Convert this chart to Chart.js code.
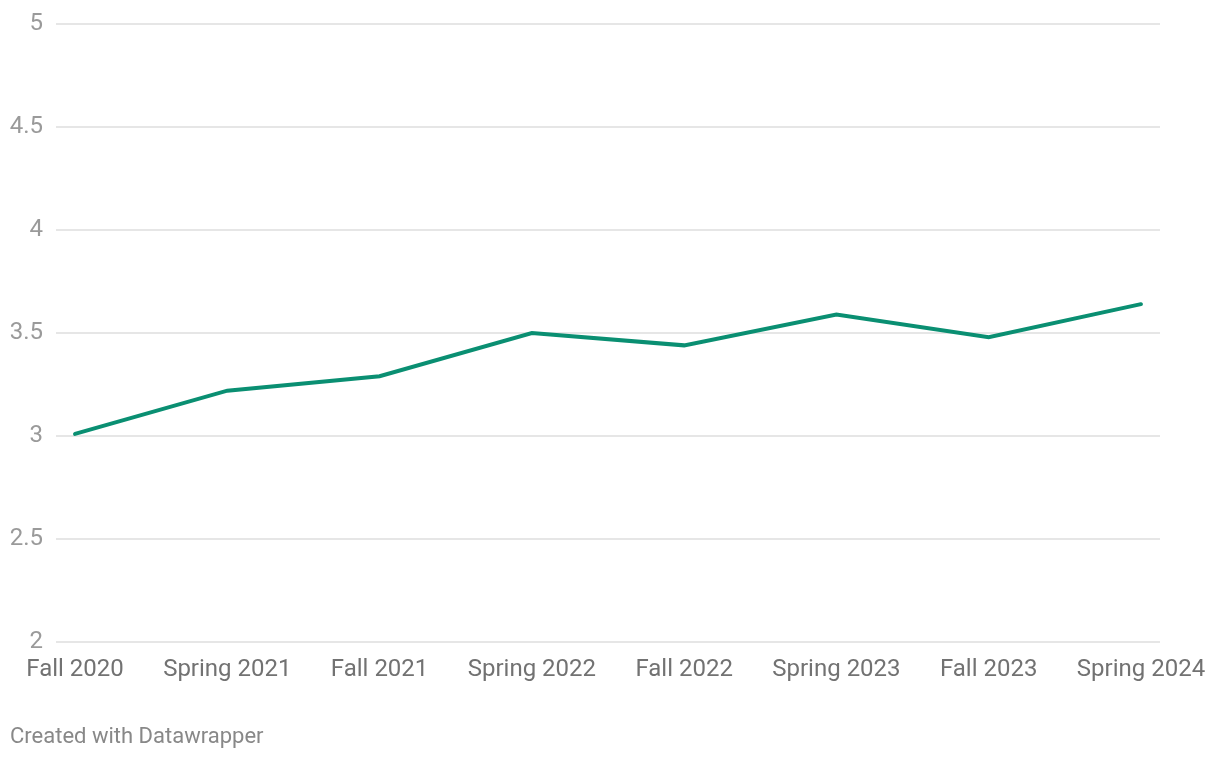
<!DOCTYPE html>
<html>
<head>
<meta charset="utf-8">
<script src="https://cdn.jsdelivr.net/npm/chart.js@4"></script>
<style>
  html, body { margin: 0; padding: 0; background: #fff; }
  #wrap { position: relative; width: 1220px; height: 758px; }
  #c { position: absolute; left: 0; top: 0; }
  #footer { position: absolute; left: 10px; top: 722px; font-family: Roboto, sans-serif; font-size: 22px; color: #888; line-height: 28px; }
</style>
</head>
<body>
<div id="wrap">
  <canvas id="c" width="1220" height="758"></canvas>
  <div id="footer">Created with Datawrapper</div>
</div>
<script>
const categories = ["Fall 2020", "Spring 2021", "Fall 2021", "Spring 2022", "Fall 2022", "Spring 2023", "Fall 2023", "Spring 2024"];
const values = [3.01, 3.22, 3.29, 3.50, 3.44, 3.59, 3.48, 3.64];
const yTicks = [2, 2.5, 3, 3.5, 4, 4.5, 5];

const points = values.map((v, i) => ({ x: i, y: v }));

new Chart(document.getElementById('c'), {
  type: 'line',
  data: {
    datasets: [{
      data: points,
      borderColor: '#0a8f72',
      borderWidth: 4,
      pointRadius: 0,
      tension: 0,
      fill: false,
      borderJoinStyle: 'miter',
      borderCapStyle: 'round'
    }]
  },
  options: {
    responsive: false,
    animation: false,
    devicePixelRatio: 1,
    layout: { padding: { top: 0, right: 60, left: 0, bottom: 0 } },
    plugins: { legend: { display: false }, tooltip: { enabled: false } },
    scales: {
      x: {
        type: 'linear',
        min: -0.125,
        max: categories.length - 1 + 0.125,
        afterFit: (s) => { s.height = 116; s.paddingLeft = 0; s.paddingRight = 0; },
        afterBuildTicks: (s) => {
          s.ticks = categories.map((c, i) => ({ value: i }));
        },
        grid: { display: false },
        border: { display: false },
        ticks: {
          autoSkip: false,
          maxRotation: 0,
          padding: 6,
          color: '#727272',
          font: { family: 'Roboto', size: 24 },
          callback: (v) => categories[v]
        }
      },
      y: {
        min: 2,
        max: 5,
        afterFit: (s) => { s.width = 56; s.paddingTop = 24; s.paddingBottom = 0; },
        afterBuildTicks: (s) => {
          s.ticks = yTicks.map(v => ({ value: v }));
        },
        grid: { color: '#e6e6e6', lineWidth: 2, drawTicks: false },
        border: { display: false },
        ticks: {
          padding: 13,
          color: '#9a9a9a',
          font: { family: 'Roboto', size: 24 },
          callback: (v) => String(v)
        }
      }
    }
  }
});
</script>
</body>
</html>
